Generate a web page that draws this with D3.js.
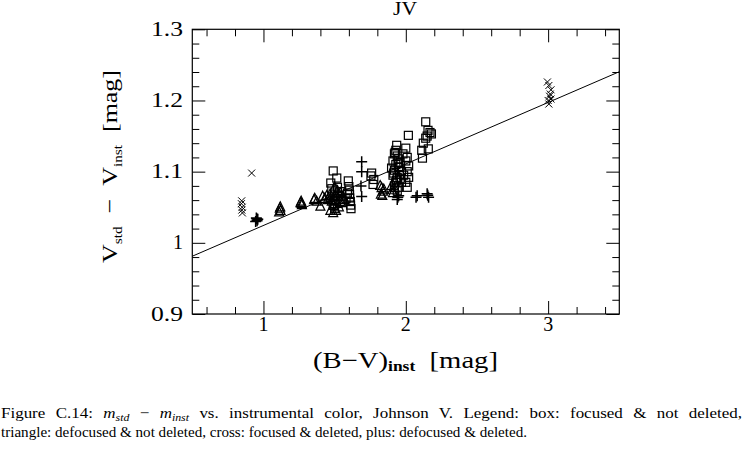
<!DOCTYPE html>
<html>
<head>
<meta charset="utf-8">
<script src="https://cdn.jsdelivr.net/npm/d3@7"></script>
<style>
  html, body { margin: 0; padding: 0; background: #fff; }
  svg { display: block; }
  text { font-family: "Liberation Serif", "Times New Roman", serif; fill: #000; }
</style>
</head>
<body>
<svg id="chart" width="744" height="459"></svg>
<script>
// ---------- data ----------
const xDomain = [0.5, 3.5];
const yDomain = [0.9, 1.3];
const xMajorTicks = [1, 2, 3];
const yMajorTicks = [0.9, 1.0, 1.1, 1.2, 1.3];
const yMajorLabels = ["0.9", "1", "1.1", "1.2", "1.3"];
const fitLine = { intercept: 0.938, slope: 0.0864 };

// box: focused & not deleted
const boxX = [1.49, 1.515, 1.473, 1.48, 1.50, 1.52, 1.53, 1.51, 1.49, 1.50, 1.55, 1.54,
  1.596, 1.60, 1.603, 1.605, 1.606, 1.61, 1.612, 1.615, 1.59, 1.58,
  1.76, 1.775, 1.77, 1.755,
  1.936, 1.93, 1.92, 1.94, 1.95, 1.91, 1.93, 1.96, 1.90, 1.92, 1.95, 1.97, 1.91, 1.94, 1.96, 1.93, 1.92, 1.95, 1.94, 1.97,
  2.00, 2.01, 2.00, 2.02, 2.01, 2.02, 2.00, 2.01, 1.98, 1.985, 2.018,
  1.925, 1.945, 1.915, 1.955, 1.935,
  2.14, 2.156, 2.17, 2.18, 2.14, 2.123, 2.112, 2.158, 2.117, 2.15];
const boxY = [1.101, 1.091, 1.084, 1.076, 1.070, 1.078, 1.065, 1.060, 1.055, 1.048, 1.072, 1.058,
  1.087, 1.079, 1.074, 1.068, 1.063, 1.058, 1.053, 1.048, 1.070, 1.062,
  1.098, 1.089, 1.082, 1.094,
  1.137, 1.130, 1.125, 1.122, 1.118, 1.115, 1.110, 1.113, 1.105, 1.102, 1.106, 1.100, 1.095, 1.092, 1.090, 1.085, 1.080, 1.078, 1.073, 1.085,
  1.133, 1.120, 1.115, 1.108, 1.100, 1.092, 1.085, 1.078, 1.125, 1.095, 1.151,
  1.127, 1.112, 1.098, 1.096, 1.088,
  1.170, 1.158, 1.155, 1.153, 1.147, 1.140, 1.130, 1.132, 1.119, 1.150];

// triangle: defocused & not deleted
const triX = [1.115, 1.12, 1.11, 1.118,
  1.26, 1.27, 1.265, 1.268,
  1.355, 1.374, 1.36, 1.40,
  1.416, 1.43, 1.445, 1.468, 1.45,
  1.47, 1.48, 1.49, 1.50, 1.51, 1.52, 1.53, 1.47, 1.49, 1.50, 1.54, 1.56, 1.55, 1.52, 1.50, 1.57,
  1.82, 1.83, 1.84, 1.825, 1.835, 1.845,
  1.905, 1.91, 1.92, 1.90];
const triY = [1.048, 1.045, 1.043, 1.050,
  1.056, 1.053, 1.058, 1.055,
  1.060, 1.058, 1.062, 1.051,
  1.065, 1.062, 1.066, 1.068, 1.060,
  1.063, 1.058, 1.052, 1.065, 1.045, 1.055, 1.050, 1.045, 1.042, 1.060, 1.070, 1.065, 1.056, 1.073, 1.078, 1.060,
  1.080, 1.077, 1.072, 1.068, 1.066, 1.075,
  1.074, 1.070, 1.077, 1.080];

// cross: focused & deleted
const crossX = [0.847, 0.845, 0.85, 0.848, 0.852, 0.917,
  2.995, 3.005, 3.02, 3.01, 3.00, 3.02, 3.005, 3.015];
const crossY = [1.059, 1.055, 1.050, 1.046, 1.042, 1.098,
  1.226, 1.221, 1.215, 1.206, 1.200, 1.202, 1.195, 1.209];

// plus: defocused & deleted
const plusX = [0.95, 0.955, 0.96, 0.945, 0.953,
  1.69, 1.69, 1.685, 1.69,
  1.944, 1.95, 1.94,
  2.072, 2.08,
  2.154, 2.16, 2.15];
const plusY = [1.035, 1.031, 1.033, 1.030, 1.034,
  1.114, 1.100, 1.080, 1.065,
  1.064, 1.066, 1.061,
  1.064, 1.066,
  1.067, 1.064, 1.069];

// ---------- layout ----------
const svg = d3.select("#chart");
const L = 192.3, R = 619.3, T = 29.3, B = 314;
const x = d3.scaleLinear().domain(xDomain).range([L, R]);
const y = d3.scaleLinear().domain(yDomain).range([B, T]);

const xMinor = d3.range(0.6, 3.5, 0.2).map(v => +v.toFixed(2)).filter(v => !xMajorTicks.some(m => Math.abs(m - v) < 1e-6));
const yMinor = d3.range(0.92, 1.3, 0.02).map(v => +v.toFixed(3)).filter(v => !yMajorTicks.some(m => Math.abs(m - v) < 1e-6));

const minorLen = 7, majorLen = 13;
function axisGroup(axisFn, scale, values, len, tf) {
  const g = svg.append("g").attr("transform", tf)
    .call(axisFn(scale).tickValues(values).tickSize(len).tickFormat(""));
  g.select(".domain").remove();
  g.selectAll(".tick line").attr("stroke", "#000").attr("stroke-width", 1);
  return g;
}
axisGroup(d3.axisTop, x, xMinor, minorLen, `translate(0,${B})`);
axisGroup(d3.axisTop, x, xMajorTicks, majorLen, `translate(0,${B})`);
axisGroup(d3.axisBottom, x, xMinor, minorLen, `translate(0,${T})`);
axisGroup(d3.axisBottom, x, xMajorTicks, majorLen, `translate(0,${T})`);
axisGroup(d3.axisRight, y, yMinor, minorLen, `translate(${L},0)`);
axisGroup(d3.axisRight, y, yMajorTicks, majorLen, `translate(${L},0)`);
axisGroup(d3.axisLeft, y, yMinor, minorLen, `translate(${R},0)`);
axisGroup(d3.axisLeft, y, yMajorTicks, majorLen, `translate(${R},0)`);

svg.append("rect").attr("x", L).attr("y", T).attr("width", R - L).attr("height", B - T)
  .attr("fill", "none").attr("stroke", "#000").attr("stroke-width", 1.2);

// tick labels
svg.append("g").selectAll("text").data(xMajorTicks).join("text")
  .attr("x", d => x(d)).attr("y", 331).attr("text-anchor", "middle")
  .attr("font-size", 20).text(d => d);
svg.append("g").selectAll("text").data(yMajorTicks).join("text")
  .attr("x", 183).attr("y", d => y(d) + 6.5).attr("text-anchor", "end")
  .attr("font-size", 20)
  .each(function (d, i) {
    const s = yMajorLabels[i];
    const t = d3.select(this).text(s);
    if (s.length > 1) t.attr("textLength", 32).attr("lengthAdjust", "spacingAndGlyphs");
  });

// fit line
svg.append("line")
  .attr("x1", x(xDomain[0])).attr("y1", y(fitLine.intercept + fitLine.slope * xDomain[0]))
  .attr("x2", x(xDomain[1])).attr("y2", y(fitLine.intercept + fitLine.slope * xDomain[1]))
  .attr("stroke", "#000").attr("stroke-width", 1);

// markers
const plot = svg.append("g").attr("fill", "none").attr("stroke", "#000").attr("stroke-width", 1.2);
const bs = 8;
plot.selectAll(".box").data(d3.range(boxX.length)).join("rect")
  .attr("x", i => x(boxX[i]) - bs / 2).attr("y", i => y(boxY[i]) - bs / 2)
  .attr("width", bs).attr("height", bs);
const ts = 9;
plot.selectAll(".tri").data(d3.range(triX.length)).join("path")
  .attr("d", i => {
    const cx = x(triX[i]), cy = y(triY[i]);
    return `M${cx},${cy - ts * 0.6}L${cx + ts / 2},${cy + ts * 0.4}L${cx - ts / 2},${cy + ts * 0.4}Z`;
  });
const cs = 3.5;
plot.selectAll(".cross").data(d3.range(crossX.length)).join("path")
  .attr("stroke-width", 1)
  .attr("d", i => {
    const cx = x(crossX[i]), cy = y(crossY[i]);
    return `M${cx - cs},${cy - cs}L${cx + cs},${cy + cs}M${cx - cs},${cy + cs}L${cx + cs},${cy - cs}`;
  });
const ps = 5.5;
plot.selectAll(".plus").data(d3.range(plusX.length)).join("path")
  .attr("stroke-width", 1.5)
  .attr("d", i => {
    const cx = x(plusX[i]), cy = y(plusY[i]);
    return `M${cx - ps},${cy}L${cx + ps},${cy}M${cx},${cy - ps}L${cx},${cy + ps}`;
  });

// title
svg.append("text").attr("x", 405).attr("y", 15).attr("text-anchor", "middle")
  .attr("font-size", 18).attr("textLength", 24).attr("lengthAdjust", "spacingAndGlyphs").text("JV");

// x axis title
const xt = svg.append("text").attr("x", 313).attr("y", 368).attr("font-size", 23)
  .attr("textLength", 185).attr("lengthAdjust", "spacingAndGlyphs");
xt.append("tspan").text("(B\u2212V)");
xt.append("tspan").attr("font-size", 14).attr("font-weight", "bold").attr("dy", 3).text("inst");
xt.append("tspan").attr("dy", -3).text("\u2002[mag]");

// y axis title
const yt = svg.append("text").attr("transform", "translate(117,263) rotate(-90)")
  .attr("x", 0).attr("y", 0).attr("font-size", 22)
  .attr("textLength", 193).attr("lengthAdjust", "spacingAndGlyphs");
yt.append("tspan").text("V");
yt.append("tspan").attr("font-size", 13).attr("dy", 5).text("std");
yt.append("tspan").attr("dy", -5).text("\u2002\u2212\u2002V");
yt.append("tspan").attr("font-size", 13).attr("dy", 5).text("inst");
yt.append("tspan").attr("dy", -5).text("\u2002[mag]");

// caption
const capSize = 15.1;
const cap1 = svg.append("text").attr("x", 1).attr("y", 418).attr("font-size", capSize);
cap1.append("tspan").text("Figure C.14: ");
cap1.append("tspan").attr("font-style", "italic").text("m");
cap1.append("tspan").attr("font-style", "italic").attr("font-size", 10.5).attr("dy", 3).text("std");
cap1.append("tspan").attr("dy", -3).text(" \u2212 ");
cap1.append("tspan").attr("font-style", "italic").text("m");
cap1.append("tspan").attr("font-style", "italic").attr("font-size", 10.5).attr("dy", 3).text("inst");
cap1.append("tspan").attr("dy", -3).text(" vs. instrumental color, Johnson V. Legend: box: focused & not deleted,");
const natural = cap1.node().getComputedTextLength();
const nSpaces = cap1.text().split(" ").length - 1;
cap1.attr("word-spacing", Math.max(0, (741 - natural) * 0.5 / nSpaces));
cap1.attr("textLength", 741).attr("lengthAdjust", "spacingAndGlyphs");
svg.append("text").attr("x", 1).attr("y", 437).attr("font-size", capSize)
  .text("triangle: defocused & not deleted, cross: focused & deleted, plus: defocused & deleted.");
</script>
</body>
</html>
